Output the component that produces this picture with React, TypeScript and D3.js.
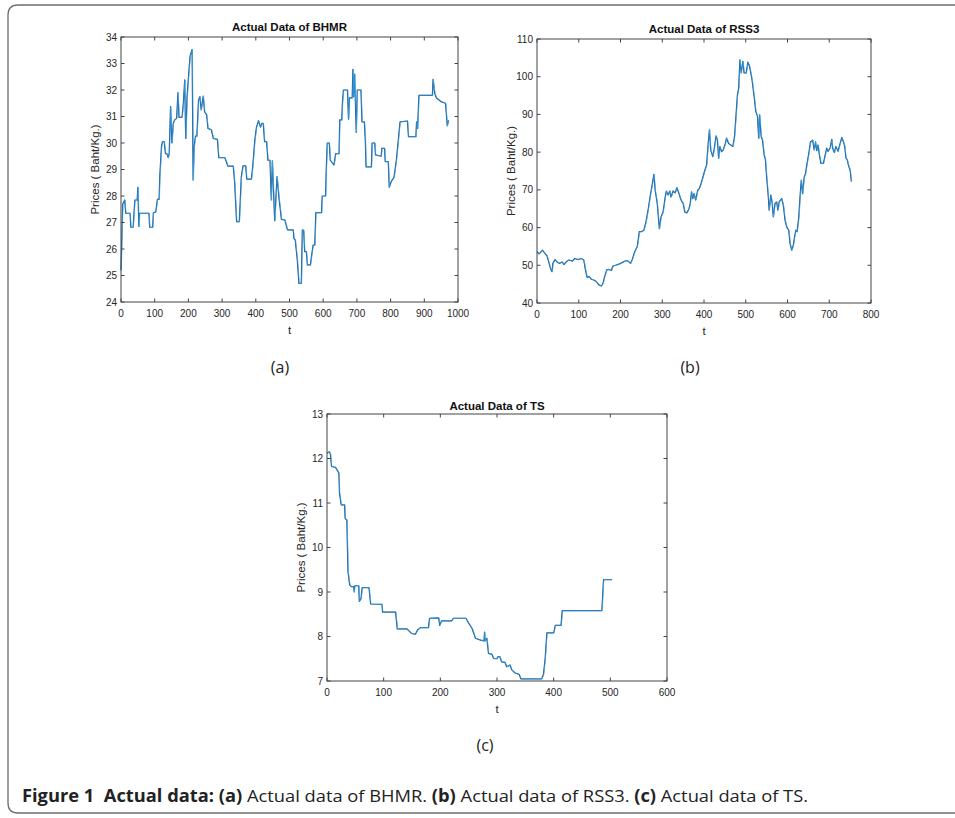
import React from 'react';
import * as d3 from 'd3';

// values: [t, price]
const bhmrData: [number, number][] = [
  [0, 25.2], [5, 27.7], [11, 27.85], [14, 27.35], [27, 27.35], [29, 26.82], [36, 26.82], [41, 27.85],
  [48, 27.85], [50, 28.33], [53, 26.85], [55, 27.35], [83, 27.35], [85, 26.82], [94, 26.82], [96, 27.37],
  [103, 27.4], [108, 27.87], [113, 27.87], [115, 28.73], [120, 29.86], [123, 30.05], [128, 30.05], [132, 29.6],
  [136, 29.6], [140, 29.45], [143, 29.6], [147, 31.37], [151, 30.0], [155, 30.74], [159, 30.87], [165, 30.93],
  [169, 31.9], [172, 30.97], [181, 30.97], [185, 31.5], [189, 32.38], [192, 30.17], [196, 31.75], [201, 32.63],
  [205, 33.28], [211, 33.53], [214, 28.6], [217, 29.86], [221, 30.26], [225, 30.26], [230, 31.62], [234, 31.75],
  [238, 31.25], [244, 31.77], [248, 31.18], [254, 31.06], [258, 30.55], [268, 30.5], [274, 30.17], [286, 30.14],
  [290, 29.45], [308, 29.45], [317, 29.13], [333, 29.13], [337, 28.54], [343, 27.03], [351, 27.03], [357, 28.73],
  [362, 29.14], [370, 29.14], [373, 28.64], [387, 28.64], [391, 29.13], [397, 30.11], [402, 30.6], [408, 30.84],
  [414, 30.6], [418, 30.74], [422, 30.74], [426, 30.05], [432, 30.05], [436, 29.35], [442, 29.35], [446, 27.85],
  [449, 29.33], [456, 27.07], [463, 28.73], [469, 27.9], [476, 27.12], [486, 27.1], [494, 26.72], [511, 26.72],
  [513, 26.4], [517, 26.34], [523, 25.6], [528, 24.7], [535, 24.7], [538, 26.72], [542, 26.7], [545, 25.9],
  [550, 25.9], [553, 25.4], [562, 25.4], [565, 25.7], [570, 26.15], [575, 26.15], [578, 27.37], [595, 27.37],
  [597, 28.0], [607, 28.0], [609, 29.0], [612, 30.0], [618, 30.0], [621, 29.35], [632, 29.17], [637, 29.6],
  [647, 29.6], [649, 30.87], [655, 30.87], [657, 31.5], [660, 32.0], [672, 32.0], [675, 30.9], [678, 31.7],
  [686, 31.7], [688, 32.78], [690, 31.75], [693, 32.6], [698, 30.4], [701, 32.0], [712, 32.0], [715, 30.8],
  [722, 30.8], [725, 30.1], [727, 29.1], [743, 29.1], [745, 30.0], [753, 30.0], [755, 29.55], [772, 29.5],
  [774, 29.8], [782, 29.8], [784, 29.3], [793, 29.3], [796, 28.33], [802, 28.55], [810, 28.7], [817, 29.35],
  [822, 30.0], [828, 30.8], [850, 30.83], [853, 30.24], [875, 30.24], [877, 30.8], [880, 30.55], [884, 31.8],
  [924, 31.8], [926, 32.4], [931, 31.87], [936, 31.7], [951, 31.55], [963, 31.5], [968, 30.65], [972, 30.85],
];

const rss3Data: [number, number][] = [
  [0, 53.6], [5, 53.0], [13, 54.0], [18, 53.3], [24, 52.5], [29, 50.5], [33, 48.9], [36, 48.3], [38, 50.5],
  [43, 51.5], [48, 50.9], [54, 50.5], [60, 50.9], [65, 50.2], [70, 50.9], [76, 51.4], [85, 51.1], [90, 51.8],
  [98, 51.5], [106, 51.8], [112, 51.4], [116, 48.8], [120, 46.8], [125, 47.0], [130, 46.3], [136, 46.1],
  [142, 45.7], [148, 44.8], [154, 44.5], [158, 45.2], [162, 47.0], [167, 48.8], [172, 48.9], [178, 48.6],
  [182, 49.8], [188, 50.0], [196, 50.3], [204, 50.7], [212, 51.2], [218, 51.1], [224, 50.5], [228, 51.5],
  [234, 53.6], [240, 54.9], [245, 58.9], [250, 58.9], [256, 59.3], [261, 61.5], [266, 64.6], [271, 68.3],
  [275, 70.8], [280, 74.1], [283, 69.9], [288, 66.4], [293, 59.7], [297, 62.8], [302, 64.1], [307, 68.1],
  [310, 69.7], [314, 68.6], [318, 69.7], [321, 68.1], [326, 69.7], [331, 69.2], [335, 70.6], [340, 69.0],
  [345, 67.3], [350, 66.4], [354, 64.1], [359, 63.9], [364, 65.0], [367, 66.4], [370, 69.5], [373, 67.7],
  [376, 69.0], [380, 67.3], [385, 69.9], [389, 70.4], [393, 71.7], [397, 73.2], [402, 75.2], [406, 76.5],
  [410, 82.3], [413, 85.9], [416, 80.6], [421, 78.8], [424, 80.6], [429, 84.3], [432, 83.2], [435, 78.4],
  [438, 81.5], [442, 80.1], [446, 80.6], [451, 82.3], [454, 83.7], [459, 82.3], [464, 81.9], [469, 81.5],
  [473, 84.1], [477, 90.3], [480, 95.2], [483, 97.0], [486, 104.5], [489, 101.0], [493, 104.1], [496, 101.0],
  [501, 101.0], [505, 103.9], [509, 102.8], [512, 101.0], [515, 99.2], [520, 94.8], [524, 90.8], [528, 89.5],
  [531, 83.7], [533, 89.9], [537, 84.1], [540, 83.2], [544, 79.3], [547, 78.0], [550, 73.4], [554, 68.2],
  [556, 64.6], [560, 68.6], [563, 66.8], [566, 62.8], [570, 66.4], [574, 66.8], [577, 64.6], [580, 66.8],
  [586, 67.7], [590, 65.9], [594, 62.0], [598, 60.2], [603, 59.3], [606, 55.8], [610, 54.0], [614, 55.4],
  [617, 57.6], [620, 59.3], [623, 58.9], [627, 62.8], [630, 68.2], [633, 72.6], [636, 69.0], [640, 73.4],
  [643, 74.3], [646, 76.5], [651, 79.7], [655, 82.7], [660, 83.2], [664, 80.6], [667, 82.7], [670, 80.4],
  [673, 81.9], [677, 78.8], [680, 77.0], [686, 77.0], [691, 79.7], [694, 81.1], [697, 80.2], [702, 81.1],
  [706, 83.4], [708, 81.1], [712, 79.9], [716, 81.5], [721, 80.2], [726, 82.3], [730, 83.9], [734, 82.7],
  [737, 81.5], [740, 78.4], [743, 78.0], [746, 76.5], [750, 75.2], [753, 72.2],
];

const tsData: [number, number][] = [
  [0, 12.12], [4, 12.15], [6, 12.1], [8, 11.82], [15, 11.8], [18, 11.74], [21, 11.67], [22, 11.22],
  [25, 10.96], [31, 10.96], [32, 10.65], [35, 10.62], [37, 9.46], [40, 9.16], [43, 9.12], [47, 9.12],
  [48, 9.0], [49, 9.14], [56, 9.14], [57, 8.79], [60, 8.85], [62, 9.1], [74, 9.1], [77, 8.73], [97, 8.72],
  [98, 8.55], [121, 8.55], [124, 8.17], [141, 8.17], [149, 8.07], [156, 8.05], [160, 8.15], [165, 8.2],
  [179, 8.2], [181, 8.41], [197, 8.42], [199, 8.25], [202, 8.35], [220, 8.35], [223, 8.41], [245, 8.41],
  [250, 8.3], [256, 8.18], [262, 7.96], [271, 7.92], [277, 7.9], [278, 8.1], [279, 7.9], [282, 7.96],
  [285, 7.62], [291, 7.6], [294, 7.51], [300, 7.5], [302, 7.55], [305, 7.55], [308, 7.43], [314, 7.42],
  [317, 7.32], [323, 7.36], [326, 7.25], [332, 7.18], [339, 7.15], [342, 7.05], [379, 7.05], [382, 7.15],
  [385, 7.51], [388, 8.08], [400, 8.08], [403, 8.25], [413, 8.25], [415, 8.58], [485, 8.58], [488, 9.28],
  [503, 9.28],
];

const bhmrYTicks = [24, 25, 26, 27, 28, 29, 30, 31, 32, 33, 34];
const bhmrXTicks = [0, 100, 200, 300, 400, 500, 600, 700, 800, 900, 1000];
const rss3YTicks = [40, 50, 60, 70, 80, 90, 100, 110];
const rss3XTicks = [0, 100, 200, 300, 400, 500, 600, 700, 800];
const tsYTicks = [7, 8, 9, 10, 11, 12, 13];
const tsXTicks = [0, 100, 200, 300, 400, 500, 600];

const AXIS = '#444';
const LABEL = '#262626';
const FONT = '"Liberation Sans", Arial, Helvetica, sans-serif';

type PanelProps = {
  title: string;
  data: [number, number][];
  xTicks: number[];
  yTicks: number[];
  left: number;
  right: number;
  top: number;
  bottom: number;
  titleGap: number;
};

const Panel = ({ title, data, xTicks, yTicks, left, right, top, bottom, titleGap }: PanelProps) => {
  const x = d3.scaleLinear().domain([xTicks[0], xTicks[xTicks.length - 1]]).range([left, right]);
  const y = d3.scaleLinear().domain([yTicks[0], yTicks[yTicks.length - 1]]).range([bottom, top]);
  const line = d3
    .line<[number, number]>()
    .x((d) => x(d[0]))
    .y((d) => y(d[1]));
  const path = line(data) || '';
  const tk = 3.5;

  return (
    <g>
      {/* series: dark trace, lighter blue on top slightly shifted */}
      <path d={path} fill="none" stroke="#1f4a80" strokeWidth={1.2} strokeLinejoin="round" />
      <path d={path} fill="none" stroke="#35aef2" strokeWidth={0.7} strokeLinejoin="round"
        transform="translate(0.35,0)" />

      {/* box */}
      <rect x={left} y={top} width={right - left} height={bottom - top} fill="none" stroke={AXIS} strokeWidth={1} />

      {/* ticks, mirrored like matlab */}
      {xTicks.map((t) => (
        <g key={'x' + t}>
          <line x1={x(t)} x2={x(t)} y1={bottom} y2={bottom - tk} stroke={AXIS} />
          <line x1={x(t)} x2={x(t)} y1={top} y2={top + tk} stroke={AXIS} />
          <text x={x(t)} y={bottom + 14.5} textAnchor="middle" fontSize={10} fill={LABEL} fontFamily={FONT}>
            {t}
          </text>
        </g>
      ))}
      {yTicks.map((t) => (
        <g key={'y' + t}>
          <line x1={left} x2={left + tk} y1={y(t)} y2={y(t)} stroke={AXIS} />
          <line x1={right} x2={right - tk} y1={y(t)} y2={y(t)} stroke={AXIS} />
          <text x={left - 4} y={y(t) + 3.5} textAnchor="end" fontSize={10} fill={LABEL} fontFamily={FONT}>
            {t}
          </text>
        </g>
      ))}

      <text
        x={(left + right) / 2}
        y={top - titleGap}
        textAnchor="middle"
        fontSize={11.5}
        fontWeight="bold"
        fill="#111"
        fontFamily={FONT}
      >
        {title}
      </text>
      <text x={(left + right) / 2} y={bottom + 32} textAnchor="middle" fontSize={11.5} fill={LABEL} fontFamily={FONT}>
        t
      </text>
      <text
        transform={`translate(${left - 22},${(top + bottom) / 2}) rotate(-90)`}
        textAnchor="middle"
        fontSize={11.5}
        fill={LABEL}
        fontFamily={FONT}
      >
        Prices ( Baht/Kg.)
      </text>
    </g>
  );
};

const CAP_FONT = '"Open Sans", "Noto Sans", sans-serif';

export default function App() {
  return (
    <svg
      width={955}
      height={818}
      style={{ position: 'absolute', left: 0, top: 0, background: '#fff' }}
    >
      <path d="M 956 5 H 18 Q 8 5 8 15 V 803 Q 8 813 18 813 H 956" fill="none" stroke="#6e6e6e" strokeWidth={1.3} />

      <Panel title="Actual Data of BHMR" data={bhmrData} xTicks={bhmrXTicks} yTicks={bhmrYTicks}
        left={121} right={458} top={37} bottom={302} titleGap={6} />
      <Panel title="Actual Data of RSS3" data={rss3Data} xTicks={rss3XTicks} yTicks={rss3YTicks}
        left={537} right={871} top={39} bottom={303} titleGap={6} />
      <Panel title="Actual Data of TS" data={tsData} xTicks={tsXTicks} yTicks={tsYTicks}
        left={327} right={667} top={414} bottom={681} titleGap={4} />

      <text x={280} y={373} textAnchor="middle" fontSize={16} fill="#222" fontFamily={CAP_FONT}>(a)</text>
      <text x={690} y={373} textAnchor="middle" fontSize={16} fill="#222" fontFamily={CAP_FONT}>(b)</text>
      <text x={485} y={751} textAnchor="middle" fontSize={16} fill="#222" fontFamily={CAP_FONT}>(c)</text>

      <text
        x={22}
        y={802}
        fontSize={17}
        fill="#222"
        fontFamily={CAP_FONT}
        textLength={786}
        lengthAdjust="spacingAndGlyphs"
        style={{ whiteSpace: 'pre' }}
      >
        <tspan fontWeight="bold">{'Figure 1  Actual data: (a)'}</tspan>
        <tspan>{' Actual data of BHMR. '}</tspan>
        <tspan fontWeight="bold">(b)</tspan>
        <tspan>{' Actual data of RSS3. '}</tspan>
        <tspan fontWeight="bold">(c)</tspan>
        <tspan>{' Actual data of TS.'}</tspan>
      </text>
    </svg>
  );
}
